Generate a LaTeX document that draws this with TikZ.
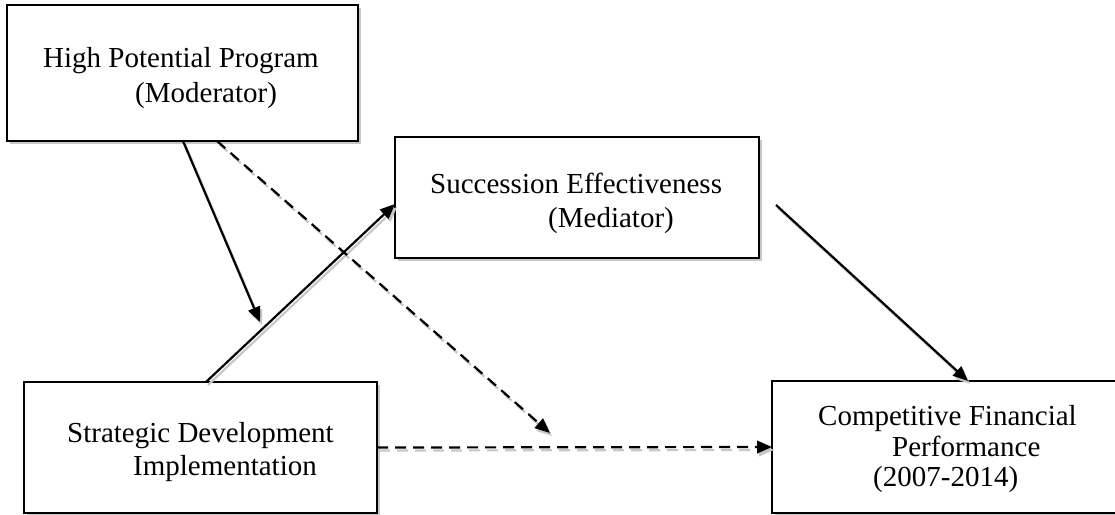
\documentclass[tikz,border=0pt]{standalone}
\usepackage{fontspec}
\setmainfont{Liberation Serif}
\usetikzlibrary{arrows.meta,shadows}
\begin{document}
\begin{tikzpicture}[x=1pt,y=-1pt,
  box/.style={draw=black, line width=2.3pt, fill=white, rectangle, inner sep=0pt, outer sep=0pt, anchor=north west,
    drop shadow={shadow xshift=2.5pt, shadow yshift=-3pt, fill=black!22, opacity=1}},
  lbl/.style={anchor=base west, inner sep=0pt, font=\fontsize{29}{34}\selectfont},
  conn/.style={line width=2.2pt, -{Triangle[length=15pt,width=12.5pt]}},
  dsh/.style={dash pattern=on 11pt off 7pt},
  shd/.style={draw=black!22, transform canvas={xshift=2pt,yshift=-3pt}}
]
\useasboundingbox (0,0) rectangle (1115,514);

% boxes
\node[box, minimum width=351pt, minimum height=136pt] (hpp) at (7,5) {};
\node[box, minimum width=364pt, minimum height=121pt] (sem) at (395,137) {};
\node[box, minimum width=353pt, minimum height=131pt] (sdi) at (24,382) {};
\node[box, minimum width=360pt, minimum height=132pt] (cfp) at (772,381) {};

% free ends
\coordinate (m1) at (260,322);
\coordinate (m2) at (550,433);
\coordinate (s1) at ([xshift=17pt,yshift=-7.5pt]sem.east);

% connector shadows
\draw[conn, shd] ([xshift=176pt]hpp.south west) -- (m1);
\draw[conn, dsh, shd] ([xshift=210pt]hpp.south west) -- (m2);
\draw[conn, shd] ([xshift=182pt]sdi.north west) -- ([yshift=-6.5pt]sem.west);
\draw[conn, dsh, shd] (sdi.east) -- (cfp.west);
\draw[conn, shd] (s1) -- ([xshift=196pt]cfp.north west);

% connectors
\draw[conn] ([xshift=176pt]hpp.south west) -- (m1);
\draw[conn, dsh] ([xshift=210pt]hpp.south west) -- (m2);
\draw[conn] ([xshift=182pt]sdi.north west) -- ([yshift=-6.5pt]sem.west);
\draw[conn, dsh] (sdi.east) -- (cfp.west);
\draw[conn] (s1) -- ([xshift=196pt]cfp.north west);

% labels
\node[lbl] (hppa) at (43,67) {High Potential Program};
\node[lbl] (hppb) at (135,102) {(Moderator)};
\node[lbl] (sema) at (430,193) {Succession Effectiveness};
\node[lbl] (semb) at (548,227) {(Mediator)};
\node[lbl] (sdia) at (67,442) {Strategic Development};
\node[lbl] (sdib) at (133,475) {Implementation};
\node[lbl] (cfpa) at (818,425) {Competitive Financial};
\node[lbl] (cfpb) at (892,456) {Performance};
\node[lbl] (cfpc) at (873,486) {(2007-2014)};
\end{tikzpicture}
\end{document}
